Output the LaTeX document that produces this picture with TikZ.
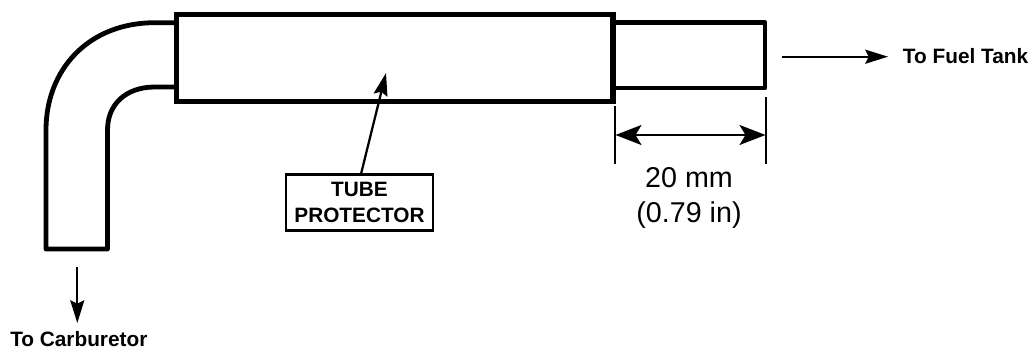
\documentclass[tikz,border=0pt]{standalone}
\usepackage{fontspec}
\setmainfont{Liberation Sans}
\usetikzlibrary{arrows.meta}
\tikzset{
  pipe/.style={line width=3.6pt,line join=round,line cap=round},
  sleeve/.style={line width=3.9pt,line join=miter},
  thinline/.style={line width=1.6pt},
  flow/.style={line width=1.7pt,-{Stealth[length=17pt,width=10.5pt,inset=2.5pt]}},
  label/.style={font=\fontsize{15.6pt}{18pt}\selectfont\bfseries,inner sep=0pt},
  dimtext/.style={font=\fontsize{21.5pt}{26pt}\selectfont,inner sep=0pt},
  callout/.style={draw,line width=1.6pt,minimum width=110pt,minimum height=42pt,inner sep=0pt,align=center,fill=white,
    font=\fontsize{15.6pt}{19.5pt}\selectfont\bfseries}
}
\begin{document}
\begin{tikzpicture}[x=0.75pt,y=-0.75pt]
\useasboundingbox (0,0) rectangle (1034,349);
% bent tube
\draw[pipe] (174,22.7) -- (155,22.7) .. controls (88,22.7) and (46,70) .. (46,130) -- (46,249) -- (107.5,249) -- (107.5,130)
  .. controls (107.5,105) and (125,87) .. (155,87) -- (174,87);
% straight end
\draw[pipe] (615,22.7) -- (765,22.7) -- (765,88) -- (615,88);
% sleeve
\draw[sleeve] (176.5,14.7) rectangle (613,101.7);
% flow arrows
\coordinate (cs) at (77.3,267); \coordinate (ce) at (77.3,323);
\draw[flow] (cs) -- (ce);
\node[label,anchor=base west] (carb) at (10,346.5) {To Carburetor};
\coordinate (fs) at (782,56.7); \coordinate (fe) at (888,56.7);
\draw[flow] (fs) -- (fe);
\node[label,anchor=base west] (tank) at (902.7,63.5) {To Fuel Tank};
% dimension
\coordinate (l1) at (615,106); \coordinate (l2) at (615,164);
\coordinate (r1) at (766,97); \coordinate (r2) at (766,164);
\draw[thinline] (l1) -- (l2);
\draw[thinline] (r1) -- (r2);
\coordinate (da) at (615.5,135); \coordinate (db) at (765.5,135);
\draw[line width=1.8pt,{Stealth[length=19.5pt,width=15pt,inset=4.5pt]}-{Stealth[length=19.5pt,width=15pt,inset=4.5pt]}] (da) -- (db);
\node[dimtext,anchor=base] (mm) at (689,187) {20 mm};
\node[dimtext,anchor=base] (in) at (689,222) {(0.79 in)};
% callout
\node[callout] (box) at (359.5,202.5) {TUBE\\PROTECTOR};
\coordinate (tip) at (386,73);
\draw[flow] (361,174) -- (tip);
\end{tikzpicture}
\end{document}
